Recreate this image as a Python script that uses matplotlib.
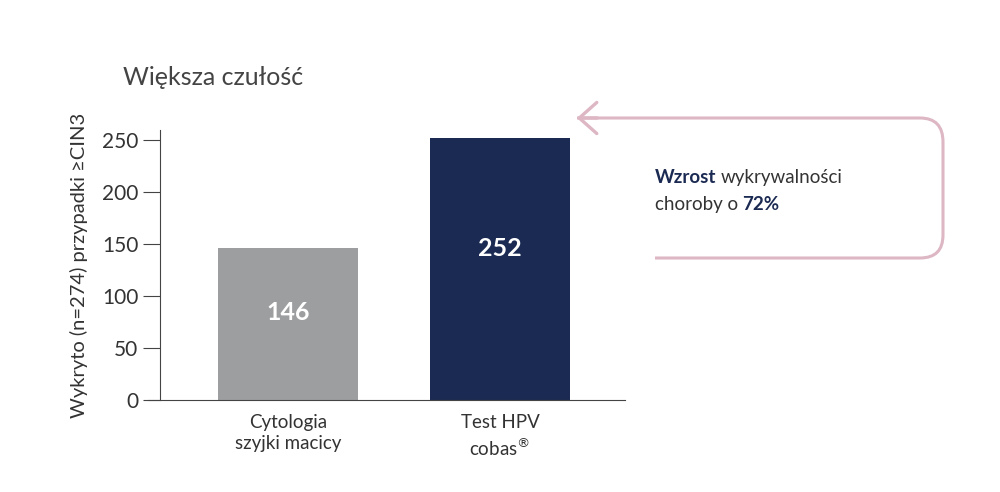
import matplotlib
matplotlib.use("Agg")
import matplotlib.pyplot as plt
from matplotlib.path import Path
from matplotlib.patches import PathPatch, FancyArrowPatch

plt.rcParams['font.family'] = ['Lato', 'DejaVu Sans']

categories = ["Cytologia\nszyjki macicy", "Test HPV\ncobas$^{®}$"]
values = [146, 252]
colors = ["#9d9ea0", "#1b2a52"]
yticks = [0, 50, 100, 150, 200, 250]

fig = plt.figure(figsize=(10, 4.92), dpi=100)
ax = fig.add_axes([0.16, 0.187, 0.465, 0.549])
x = [0, 1]
ax.bar(x, values, width=0.66, color=colors)
for xi, v in zip(x, values):
    ax.text(xi, v * 0.58, str(v), ha="center", va="center", color="white",
            fontsize=18, fontweight="bold")
ax.set_xlim(-0.604, 1.59)
ax.set_ylim(0, 260)
ax.set_yticks(yticks)
ax.set_xticks(x)
ax.set_xticklabels(categories, fontsize=13.5, color="#333333", linespacing=1.3)
ax.tick_params(axis="y", labelsize=15, colors="#333333", length=12, color="#444444")
ax.tick_params(axis="x", length=0, pad=10)
for s in ["top", "right"]:
    ax.spines[s].set_visible(False)
ax.spines["left"].set_color("#444444")
ax.spines["bottom"].set_color("#444444")
ax.spines["bottom"].set_bounds(-0.66, 1.59)
ax.set_ylabel("Wykryto (n=274) przypadki \u2265CIN3", fontsize=14.5, color="#333333", labelpad=10)

fig.text(0.123, 0.842, "Większa czułość", fontsize=18, color="#444444", va="center")

# pink bracket arrow
pink = "#ddb7c3"
W, H = 1000, 492
def f(px, py):
    return (px / W, 1 - py / H)
verts = [f(655, 258), f(920, 258), f(943, 258), f(943, 235), f(943, 142),
         f(943, 118), f(920, 118), f(577, 118)]
codes = [Path.MOVETO, Path.LINETO, Path.CURVE3, Path.CURVE3, Path.LINETO,
         Path.CURVE3, Path.CURVE3, Path.LINETO]
fig.patches.append(PathPatch(Path(verts, codes), transform=fig.transFigure,
                             fill=False, edgecolor=pink, lw=2.2))
fig.patches.append(FancyArrowPatch(f(600, 118), f(574, 118), transform=fig.transFigure,
                                   arrowstyle="->,head_length=0.9,head_width=0.8",
                                   color=pink, lw=2.4, mutation_scale=14))

fig.text(0.655, 0.640, "Wzrost", fontsize=13.5, fontweight="bold", color="#1b2a52", va="center")
fig.text(0.721, 0.640, "wykrywalności", fontsize=13.5, color="#333333", va="center")
fig.text(0.655, 0.585, "choroby o", fontsize=13.5, color="#333333", va="center")
fig.text(0.742, 0.585, "72%", fontsize=13.5, fontweight="bold", color="#1b2a52", va="center")

fig.savefig("out.png", dpi=100)
